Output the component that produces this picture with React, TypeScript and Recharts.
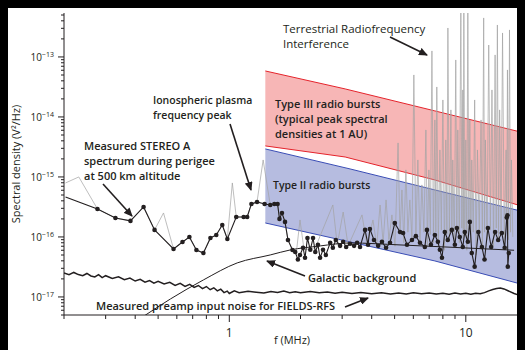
import React from 'react'
import { ComposedChart, Line, Area, XAxis, YAxis } from 'recharts'

const FONT = '"Open Sans", "Noto Sans", sans-serif'
const INK = '#231f20'

// axes: frequency in MHz, spectral density in V^2/Hz
const freqDomain: [number, number] = [0.2, 20]
const freqTicks = [0.2, 0.3, 0.4, 0.5, 0.6, 0.7, 0.8, 0.9, 1, 2, 3, 4, 5, 6, 7, 8, 9, 10, 20]
const freqLabels = [1, 10]
const densityDomain: [number, number] = [5e-18, 5.4e-13]
const densityDecades = [1e-18, 1e-17, 1e-16, 1e-15, 1e-14, 1e-13]
const densitySteps = [1, 2, 3, 4, 5, 6, 7, 8, 9]

// measured preamp input noise [f, S]
const preampNoise: [number, number][] = [
  [0.2, 2.5e-17], [0.21, 2.34e-17], [0.22, 2.56e-17], [0.23, 2.36e-17], [0.24, 2.26e-17],
  [0.25, 2.46e-17], [0.26, 2.24e-17], [0.27, 2.16e-17], [0.28, 2.36e-17], [0.29, 2.1e-17],
  [0.3, 2.26e-17], [0.32, 2.04e-17], [0.34, 2.16e-17], [0.36, 1.94e-17], [0.38, 2.06e-17],
  [0.4, 1.84e-17], [0.42, 1.96e-17], [0.44, 1.76e-17], [0.46, 1.88e-17], [0.48, 1.7e-17],
  [0.5, 1.82e-17], [0.53, 1.64e-17], [0.56, 1.75e-17], [0.59, 1.56e-17], [0.62, 1.68e-17],
  [0.65, 1.5e-17], [0.68, 1.62e-17], [0.71, 1.44e-17], [0.74, 1.55e-17], [0.77, 1.38e-17],
  [0.8, 1.49e-17], [0.83, 1.32e-17], [0.86, 1.42e-17], [0.89, 1.26e-17], [0.92, 1.35e-17],
  [0.95, 1.18e-17], [0.98, 1.25e-17], [1.0, 1.14e-17],
  [1.05, 1.26e-17], [1.1, 1.18e-17], [1.2, 1.24e-17], [1.3, 1.2e-17], [1.4, 1.16e-17],
  [1.5, 1.23e-17], [1.6, 1.19e-17], [1.7, 1.25e-17], [1.8, 1.18e-17], [1.9, 1.22e-17],
  [2.0, 1.17e-17], [2.2, 1.23e-17], [2.4, 1.18e-17], [2.6, 1.21e-17], [2.8, 1.15e-17],
  [3.0, 1.2e-17], [3.3, 1.14e-17], [3.6, 1.19e-17], [4.0, 1.13e-17], [4.4, 1.17e-17],
  [4.8, 1.12e-17], [5.2, 1.16e-17], [5.6, 1.12e-17], [6.0, 1.17e-17], [6.5, 1.13e-17],
  [7.0, 1.16e-17], [7.5, 1.12e-17], [8.0, 1.15e-17], [8.5, 1.11e-17], [9.0, 1.16e-17],
  [9.5, 1.12e-17], [10, 1.15e-17], [10.5, 1.11e-17], [11, 1.15e-17], [11.5, 1.13e-17],
  [12, 1.18e-17], [12.5, 1.26e-17], [13, 1.33e-17], [13.5, 1.38e-17], [14, 1.41e-17],
  [14.5, 1.36e-17], [15, 1.28e-17], [16, 1.14e-17], [17, 1.06e-17], [18, 1.04e-17],
  [19, 1.07e-17], [20, 1.05e-17],
]

// galactic background model [f, S]
const galactic: [number, number][] = [
  [0.43, 4.64e-18], [0.564, 9.26e-18], [0.777, 1.92e-17], [1.08, 3.69e-17], [1.49, 5.01e-17],
  [1.81, 6.07e-17], [2.42, 7.08e-17], [3.24, 7.94e-17], [5.27, 7.36e-17], [8.15, 6.81e-17],
  [16, 6.0e-17],
]

// STEREO A spectrum during perigee, averaged points [f, S]
const stereo: [number, number][] = [
  [0.203, 4.64e-16], [0.277, 2.93e-16], [0.33, 2.07e-16], [0.382, 1.85e-16], [0.434, 3.16e-16],
  [0.483, 1.31e-16], [0.581, 6.31e-17], [0.634, 8.25e-17], [0.678, 1.0e-16], [0.726, 6.07e-17],
  [0.777, 5.41e-17], [0.832, 9.62e-17], [0.881, 1.08e-16], [0.934, 1.58e-16], [0.981, 9.26e-17],
  [1.07, 2.15e-16], [1.15, 2.15e-16], [1.19, 2.15e-16], [1.24, 3.55e-16], [1.31, 3.83e-16],
  [1.41, 3.55e-16], [1.49, 3.41e-16], [1.55, 3.55e-16], [1.6, 3.55e-16], [1.63, 2.0e-16],
  [1.67, 2.51e-16], [1.72, 1.78e-16], [1.77, 8.91e-17], [1.85, 6.07e-17],
  [1.9, 5.6e-17], [1.95, 4.2e-17], [1.99, 5.0e-17], [2.05, 6.6e-17], [2.09, 4.5e-17],
  [2.14, 9.6e-17], [2.2, 6.1e-17], [2.26, 9.6e-17], [2.31, 5.6e-17], [2.37, 7.4e-17],
  [2.42, 4.5e-17], [2.49, 6.1e-17], [2.56, 5.0e-17], [2.67, 8.0e-17], [2.74, 6.6e-17],
  [2.82, 8.9e-17], [2.94, 7.1e-17], [3.03, 8.3e-17], [3.12, 6.8e-17], [3.24, 7.7e-17],
  [3.37, 7.1e-17], [3.47, 8.0e-17], [3.57, 6.8e-17], [3.75, 1.31e-16], [3.86, 7.4e-17],
  [3.93, 1.36e-16], [4.09, 8.9e-17], [4.26, 7.1e-17], [4.42, 8.3e-17], [4.6, 6.6e-17],
  [4.78, 8.0e-17], [5.01, 1.7e-16], [5.27, 1.21e-16], [5.43, 1.16e-16], [5.64, 7.4e-17],
  [5.92, 8.9e-17], [6.15, 1.03e-16], [6.4, 8.0e-17], [6.71, 6.8e-17], [6.85, 1.31e-16],
  [7.12, 7.4e-17], [7.4, 1.08e-16], [7.62, 8.3e-17], [7.77, 6.1e-17], [7.93, 4.5e-17],
  [8.15, 1.21e-16], [8.39, 8.9e-17], [8.73, 1.31e-16], [8.99, 7.4e-17], [9.17, 1.41e-16],
  [9.43, 1.0e-16], [9.71, 6.8e-17], [9.9, 1.21e-16], [10.2, 8.3e-17], [10.4, 1.78e-16],
  [10.6, 5.4e-17], [10.9, 3.2e-17], [11.3, 1.21e-16], [11.7, 6.8e-17], [12.0, 4.2e-17],
  [12.4, 1.41e-16], [12.8, 6.8e-17], [13.3, 1.21e-16], [13.7, 8.9e-17], [14.2, 1.16e-16],
  [14.6, 6.6e-17], [14.9, 2.1e-16], [15.0, 2.3e-16], [15.05, 3.2e-17], [15.2, 5.4e-17],
]

// raw STEREO A spectrum incl. terrestrial RFI spikes [f, S]
const rawSpectrum: [number, number][] = [
  [0.203, 7.94e-16], [0.231, 1.0e-15], [0.277, 2.93e-16], [0.33, 2.07e-16], [0.382, 1.85e-16],
  [0.434, 3.16e-16], [0.483, 1.31e-16], [0.527, 2.51e-16], [0.581, 6.31e-17], [0.634, 8.25e-17],
  [0.678, 1.0e-16], [0.726, 6.07e-17], [0.777, 5.41e-17], [0.832, 9.62e-17], [0.881, 1.08e-16],
  [0.934, 1.58e-16], [0.981, 9.26e-17], [1.03, 7.94e-16], [1.07, 2.15e-16], [1.15, 2.15e-16],
  [1.19, 2.15e-16], [1.24, 3.55e-16], [1.31, 3.83e-16], [1.39, 1.92e-15], [1.49, 3.41e-16],
  [1.55, 3.55e-16], [1.6, 3.55e-16], [1.63, 2.0e-16], [1.67, 2.51e-16], [1.72, 1.78e-16],
  [1.77, 8.91e-17], [1.85, 6.07e-17], [1.92, 5.4e-17], [1.99, 1.92e-16], [2.07, 6.1e-17],
  [2.31, 6.6e-17], [2.74, 3.41e-16], [2.86, 7.4e-17], [3.03, 2.6e-16], [3.18, 7.1e-17],
  [3.64, 2.33e-16], [3.82, 7.4e-17], [4.05, 1.92e-16], [4.2, 7.1e-17],
  [4.34, 3.41e-16], [4.47, 8.0e-17], [4.6, 4.14e-16], [4.73, 9.0e-17], [4.87, 2.33e-16],
  [5.02, 7.0e-17], [5.17, 3.69e-15], [5.27, 1.1e-16], [5.37, 6.07e-16], [5.47, 8.0e-17],
  [5.58, 1.31e-15], [5.69, 1.2e-16], [5.8, 4.14e-16], [5.92, 9.0e-17], [6.03, 5.01e-14],
  [6.15, 1.0e-16], [6.27, 1.92e-15], [6.4, 8.0e-17], [6.52, 7.36e-16], [6.65, 1.2e-16],
  [6.78, 6.07e-15], [6.88, 7.0e-17], [6.98, 1.31e-15], [7.08, 1.1e-16], [7.19, 1.26e-13],
  [7.3, 8.0e-17], [7.4, 8.91e-15], [7.47, 1.2e-16], [7.54, 3.16e-14], [7.65, 7.0e-17],
  [7.77, 2.82e-15], [7.88, 1.3e-16], [8.0, 1.92e-14], [8.12, 6.0e-17], [8.23, 4.14e-15],
  [8.32, 1.1e-16], [8.4, 3.04e-13], [8.52, 9.0e-17], [8.65, 1.31e-14], [8.73, 1.3e-16],
  [8.81, 1.92e-15], [8.94, 7.0e-17], [9.07, 8.91e-14], [9.16, 1.2e-16], [9.25, 6.07e-15],
  [9.39, 8.0e-17], [9.53, 1e-12], [9.62, 1.4e-16], [9.71, 2.82e-14], [9.76, 9.0e-17],
  [9.81, 1e-12], [9.9, 1.2e-16], [10.0, 4.14e-15], [10.1, 6.0e-17], [10.2, 1e-12],
  [10.3, 1.3e-16], [10.4, 8.91e-15], [10.5, 8.0e-17], [10.6, 1.92e-15], [10.75, 1.2e-16],
  [10.9, 1.92e-14], [11.05, 5.0e-17], [11.2, 2.82e-15], [11.4, 1.3e-16], [11.6, 8.91e-15],
  [11.75, 7.0e-17], [11.9, 4.47e-13], [12.0, 1.2e-16], [12.1, 4.14e-15], [12.3, 9.0e-17],
  [12.5, 1.58e-13], [12.7, 1.3e-16], [12.9, 2.82e-14], [13.1, 7.0e-17], [13.3, 1.08e-13],
  [13.45, 1.4e-16], [13.6, 3.41e-13], [13.75, 9.0e-17], [13.9, 1.31e-14], [14.1, 1.2e-16],
  [14.3, 2.51e-13], [14.55, 8.0e-17], [14.8, 2.82e-15], [14.9, 1.3e-16], [15.0, 6.07e-14],
  [15.15, 9.0e-17], [15.3, 2.82e-13], [15.45, 1.2e-16], [15.6, 1.92e-15], [15.8, 1.0e-16],
]

// radio burst envelopes [f, low, high]
const typeIIIBand: [number, number, number][] = [
  [1.42, 3.29e-15, 5.84e-14], [3.09, 2.15e-15, 2.93e-14], [7.4, 8.91e-16, 1.26e-14],
  [17.7, 3.16e-16, 5.41e-15], [20, 2.71e-16, 4.82e-15],
]
const typeIIBand: [number, number, number][] = [
  [1.42, 1.71e-16, 2.93e-15], [3.24, 8.25e-17, 1.36e-15], [7.4, 3.98e-17, 6.07e-16],
  [17.7, 1.58e-17, 2.61e-16], [20, 1.36e-17, 2.33e-16],
]

const toPts = (arr: [number, number][]) => arr.map(([f, s]) => ({ f, s }))
const toBand = (arr: [number, number, number][]) => arr.map(([f, lo, hi]) => ({ f, r: [lo, hi] }))

const densityTicks = densityDecades
  .flatMap((d) => densitySteps.map((k) => k * d))
  .filter((v) => v >= densityDomain[0] * 0.999 && v <= densityDomain[1])

const FreqTick = ({ x, y, payload, orientation }: any) => {
  const major = freqLabels.includes(payload.value)
  const dir = orientation === 'top' ? -1 : 1
  const len = major ? 7 : 4
  return (
    <g>
      <line x1={x} x2={x} y1={y} y2={y + dir * len} stroke={INK} strokeWidth={1} />
      {major && dir === 1 && (
        <text x={x} y={y + 22} textAnchor="middle" fontSize={12} fontFamily={FONT} fill={INK}>
          {payload.value}
        </text>
      )}
    </g>
  )
}

const DensityTick = ({ x, y, payload }: any) => {
  const lg = Math.log10(payload.value)
  const major = Math.abs(lg - Math.round(lg)) < 1e-6
  return (
    <g>
      <line x1={x} x2={x - (major ? 6 : 3)} y1={y} y2={y} stroke={INK} strokeWidth={1} />
      {major && (
        <text x={x - 10} y={y + 4} textAnchor="end" fontSize={10} fontFamily={FONT} fill={INK}>
          10
          <tspan dy={-4} fontSize={7}>
            {'\u2212' + Math.abs(Math.round(lg))}
          </tspan>
        </text>
      )}
    </g>
  )
}

const stereoDot = (p: any) =>
  p.index === 0 ? <g key={`d${p.index}`} /> : <circle key={`d${p.index}`} cx={p.cx} cy={p.cy} r={2.3} fill={INK} />

// annotation text and arrows, in pixel space of the chart box
const notes = [
  { x: 275, y: 25, w: 400, s: 11.5, lines: ['Terrestrial Radiofrequency', 'Interference'] },
  { x: 145, y: 96, w: 600, s: 10.5, lines: ['Ionospheric plasma', 'frequency peak'] },
  { x: 76, y: 142, w: 600, s: 11, lines: ['Measured STEREO A', 'spectrum during perigee', 'at 500 km altitude'] },
  { x: 267, y: 100, w: 600, s: 11, lines: ['Type III radio bursts', '(typical peak spectral', 'densities at 1 AU)'] },
  { x: 265, y: 181, w: 600, s: 10.5, lines: ['Type II radio bursts'] },
  { x: 300, y: 274, w: 600, s: 11, lines: ['Galactic background'] },
  { x: 88, y: 302, w: 600, s: 11, lines: ['Measured preamp input noise for FIELDS-RFS'] },
]
const arrows = [
  [382, 29, 419, 47],
  [222, 116, 243, 182],
  [95, 176, 124, 208],
  [297, 268, 259, 253],
  [337, 299, 360, 290],
]

export default function App() {
  return (
    <div style={{ position: 'relative', width: 517, height: 342, overflow: 'hidden', background: '#fff' }}>
      <style>{'html,body{background:#000;overflow:hidden}'}</style>
      <ComposedChart width={540} height={342} margin={{ top: 5, right: 11, bottom: 0, left: 0 }}>
        <XAxis
          dataKey="f"
          type="number"
          scale="log"
          domain={freqDomain}
          allowDataOverflow
          ticks={freqTicks}
          interval={0}
          height={35}
          tickSize={0}
          tickMargin={0}
          tickLine={false}
          axisLine={{ stroke: INK }}
          tick={<FreqTick orientation="bottom" />}
        />
        <XAxis
          xAxisId="top"
          orientation="top"
          dataKey="f"
          type="number"
          scale="log"
          domain={freqDomain}
          allowDataOverflow
          ticks={freqTicks}
          interval={0}
          height={0}
          tickSize={0}
          tickMargin={0}
          tickLine={false}
          axisLine={{ stroke: INK }}
          tick={<FreqTick orientation="top" />}
        />
        <YAxis
          type="number"
          scale="log"
          domain={densityDomain}
          allowDataOverflow
          ticks={densityTicks}
          interval={0}
          width={56}
          tickSize={0}
          tickMargin={0}
          tickLine={false}
          axisLine={{ stroke: INK }}
          tick={<DensityTick />}
        />
        <Area
          data={toBand(typeIIIBand)}
          dataKey="r"
          type="linear"
          fill="#f7b6b6"
          fillOpacity={1}
          stroke="#e5232b"
          strokeWidth={1}
          dot={false}
          activeDot={false}
          isAnimationActive={false}
        />
        <Area
          data={toBand(typeIIBand)}
          dataKey="r"
          type="linear"
          fill="#b6bce0"
          fillOpacity={1}
          stroke="#3a4db5"
          strokeWidth={1}
          dot={false}
          activeDot={false}
          isAnimationActive={false}
        />
        <Line
          data={toPts(rawSpectrum)}
          dataKey="s"
          type="linear"
          stroke="#a3a3a3"
          strokeOpacity={0.7}
          strokeWidth={1}
          dot={false}
          activeDot={false}
          isAnimationActive={false}
        />
        <Line
          data={toPts(preampNoise)}
          dataKey="s"
          type="linear"
          stroke={INK}
          strokeWidth={1.5}
          dot={false}
          activeDot={false}
          isAnimationActive={false}
        />
        <Line
          data={toPts(galactic)}
          dataKey="s"
          type="monotone"
          stroke={INK}
          strokeWidth={1}
          dot={false}
          activeDot={false}
          isAnimationActive={false}
        />
        <Line
          data={toPts(stereo)}
          dataKey="s"
          type="linear"
          stroke={INK}
          strokeWidth={1.1}
          dot={stereoDot}
          activeDot={false}
          isAnimationActive={false}
        />
      </ComposedChart>
      <svg
        width={517}
        height={342}
        style={{ position: 'absolute', left: 0, top: 0, pointerEvents: 'none' }}
        fontFamily={FONT}
      >
        <defs>
          <marker id="ah" markerWidth={9} markerHeight={8} refX={8} refY={4} orient="auto" markerUnits="userSpaceOnUse">
            <path d="M0,0 L9,4 L0,8 z" fill={INK} />
          </marker>
        </defs>
        {notes.map((n, i) => (
          <text key={i} x={n.x} y={n.y} fontSize={n.s} fontWeight={n.w} fill={INK}>
            {n.lines.map((l, j) => (
              <tspan key={j} x={n.x} dy={j === 0 ? 0 : 15}>
                {l}
              </tspan>
            ))}
          </text>
        ))}
        {arrows.map(([x1, y1, x2, y2], i) => (
          <line key={i} x1={x1} y1={y1} x2={x2} y2={y2} stroke={INK} strokeWidth={1.6} markerEnd="url(#ah)" />
        ))}
        <text transform="translate(12,156) rotate(-90)" textAnchor="middle" fontSize={11} fill={INK}>
          Spectral density (V²/Hz)
        </text>
        <text x={284} y={336} textAnchor="middle" fontSize={11} fill={INK}>
          f (MHz)
        </text>
      </svg>
    </div>
  )
}
